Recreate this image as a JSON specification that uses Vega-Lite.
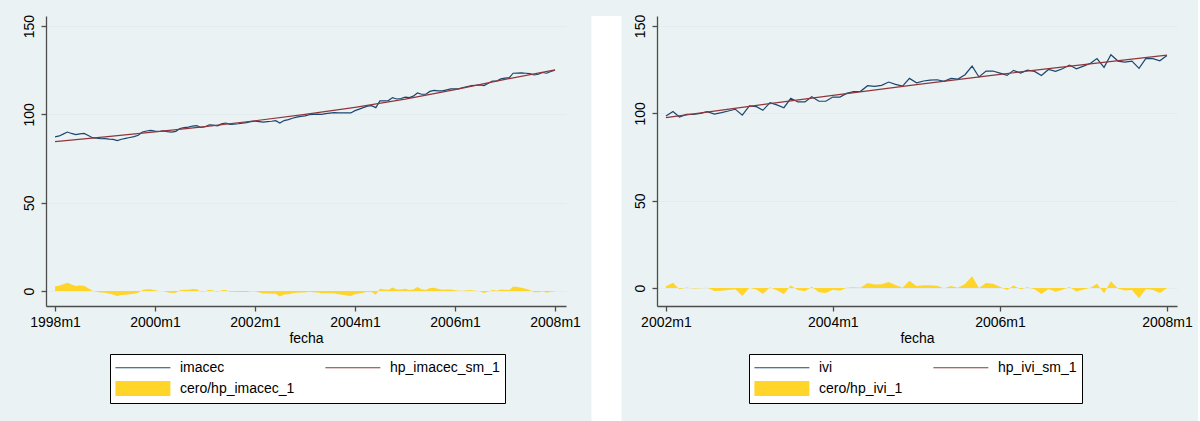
{
  "$schema": "https://vega.github.io/schema/vega-lite/v6.json",
  "background": "#eaf2f3",
  "padding": {"left": 21, "top": 14, "right": 5, "bottom": 0},
  "spacing": 10.5,
  "config": {
    "font": "Liberation Sans",
    "view": {"stroke": null, "fill": "white"},
    "axis": {"labelFont": "Liberation Sans", "labelFontSize": 14, "labelColor": "#000", "titleFont": "Liberation Sans", "titleFontSize": 14, "titleFontWeight": "normal", "titleColor": "#000", "domainColor": "#4d4d4d", "tickColor": "#4d4d4d", "domainWidth": 1.3, "tickWidth": 1.3, "tickSize": 5, "gridColor": "#e3edef", "gridWidth": 1.2},
    "legend": {"labelFont": "Liberation Sans", "labelFontSize": 14, "labelColor": "#000", "labelOffset": 48, "symbolSize": 225, "symbolStrokeWidth": 1.2, "symbolOpacity": 1, "symbolFillColor": "transparent", "columnPadding": 27, "rowPadding": 4, "padding": 5, "strokeColor": "#000", "fillColor": "#fff", "columns": 2, "direction": "horizontal", "orient": "none", "labelLimit": 300}
  },
  "datasets": {
    "imacec": [
      {"d":"1998-01","v":87.3,"c":2.7},{"d":"1998-02","v":87.8,"c":3.0},{"d":"1998-03","v":88.8,"c":3.8},{"d":"1998-04","v":90.0,"c":4.7},{"d":"1998-05","v":89.2,"c":3.7},{"d":"1998-06","v":88.5,"c":2.8},{"d":"1998-07","v":89.0,"c":3.1},{"d":"1998-08","v":89.2,"c":3.0},{"d":"1998-09","v":88.0,"c":1.6},{"d":"1998-10","v":86.8,"c":0.2},{"d":"1998-11","v":86.5,"c":-0.4},{"d":"1998-12","v":86.2,"c":-0.9},
      {"d":"1999-01","v":86.3,"c":-1.0},{"d":"1999-02","v":86.0,"c":-1.5},{"d":"1999-03","v":85.8,"c":-2.0},{"d":"1999-04","v":85.1,"c":-2.9},{"d":"1999-05","v":85.9,"c":-2.3},{"d":"1999-06","v":86.4,"c":-2.1},{"d":"1999-07","v":86.9,"c":-1.8},{"d":"1999-08","v":87.4,"c":-1.5},{"d":"1999-09","v":88.2,"c":-1.0},{"d":"1999-10","v":90.0,"c":0.6},{"d":"1999-11","v":90.6,"c":1.0},{"d":"1999-12","v":90.9,"c":1.0},
      {"d":"2000-01","v":90.5,"c":0.4},{"d":"2000-02","v":90.3,"c":0.0},{"d":"2000-03","v":90.6,"c":0.0},{"d":"2000-04","v":90.2,"c":-0.7},{"d":"2000-05","v":89.9,"c":-1.2},{"d":"2000-06","v":90.4,"c":-1.0},{"d":"2000-07","v":92.0,"c":0.4},{"d":"2000-08","v":92.5,"c":0.7},{"d":"2000-09","v":92.8,"c":0.7},{"d":"2000-10","v":93.4,"c":1.1},{"d":"2000-11","v":93.6,"c":1.0},{"d":"2000-12","v":92.6,"c":-0.3},
      {"d":"2001-01","v":93.0,"c":-0.1},{"d":"2001-02","v":94.1,"c":0.7},{"d":"2001-03","v":93.9,"c":0.3},{"d":"2001-04","v":93.5,"c":-0.4},{"d":"2001-05","v":94.6,"c":0.4},{"d":"2001-06","v":95.1,"c":0.6},{"d":"2001-07","v":94.3,"c":-0.5},{"d":"2001-08","v":94.5,"c":-0.5},{"d":"2001-09","v":94.7,"c":-0.6},{"d":"2001-10","v":95.0,"c":-0.6},{"d":"2001-11","v":95.3,"c":-0.6},{"d":"2001-12","v":95.9,"c":-0.2},
      {"d":"2002-01","v":96.2,"c":-0.2},{"d":"2002-02","v":95.9,"c":-0.8},{"d":"2002-03","v":95.6,"c":-1.4},{"d":"2002-04","v":95.9,"c":-1.4},{"d":"2002-05","v":96.1,"c":-1.5},{"d":"2002-06","v":96.4,"c":-1.5},{"d":"2002-07","v":95.1,"c":-3.1},{"d":"2002-08","v":96.5,"c":-2.0},{"d":"2002-09","v":97.0,"c":-1.8},{"d":"2002-10","v":97.8,"c":-1.3},{"d":"2002-11","v":98.4,"c":-1.0},{"d":"2002-12","v":98.9,"c":-0.8},
      {"d":"2003-01","v":99.2,"c":-0.8},{"d":"2003-02","v":99.9,"c":-0.4},{"d":"2003-03","v":100.0,"c":-0.7},{"d":"2003-04","v":100.1,"c":-0.9},{"d":"2003-05","v":100.0,"c":-1.3},{"d":"2003-06","v":100.4,"c":-1.3},{"d":"2003-07","v":100.7,"c":-1.3},{"d":"2003-08","v":101.0,"c":-1.3},{"d":"2003-09","v":100.9,"c":-1.8},{"d":"2003-10","v":100.8,"c":-2.2},{"d":"2003-11","v":100.8,"c":-2.5},{"d":"2003-12","v":100.8,"c":-2.9},
      {"d":"2004-01","v":102.1,"c":-1.9},{"d":"2004-02","v":103.0,"c":-1.4},{"d":"2004-03","v":103.8,"c":-1.0},{"d":"2004-04","v":104.7,"c":-0.5},{"d":"2004-05","v":104.9,"c":-0.6},{"d":"2004-06","v":103.8,"c":-2.1},{"d":"2004-07","v":107.6,"c":1.3},{"d":"2004-08","v":107.6,"c":0.9},{"d":"2004-09","v":107.8,"c":0.7},{"d":"2004-10","v":109.5,"c":2.0},{"d":"2004-11","v":108.7,"c":0.9},{"d":"2004-12","v":109.0,"c":0.8},
      {"d":"2005-01","v":109.8,"c":1.2},{"d":"2005-02","v":109.5,"c":0.5},{"d":"2005-03","v":110.3,"c":0.8},{"d":"2005-04","v":112.1,"c":2.2},{"d":"2005-05","v":111.4,"c":1.0},{"d":"2005-06","v":111.4,"c":0.6},{"d":"2005-07","v":113.0,"c":1.7},{"d":"2005-08","v":113.6,"c":1.9},{"d":"2005-09","v":113.3,"c":1.1},{"d":"2005-10","v":113.3,"c":0.7},{"d":"2005-11","v":113.9,"c":0.8},{"d":"2005-12","v":114.4,"c":0.9},
      {"d":"2006-01","v":114.4,"c":0.4},{"d":"2006-02","v":114.6,"c":0.1},{"d":"2006-03","v":115.2,"c":0.2},{"d":"2006-04","v":115.8,"c":0.4},{"d":"2006-05","v":116.3,"c":0.4},{"d":"2006-06","v":116.5,"c":0.1},{"d":"2006-07","v":116.7,"c":-0.2},{"d":"2006-08","v":116.3,"c":-1.1},{"d":"2006-09","v":117.6,"c":-0.3},{"d":"2006-10","v":118.9,"c":0.6},{"d":"2006-11","v":118.9,"c":0.1},{"d":"2006-12","v":120.1,"c":0.8},
      {"d":"2007-01","v":120.5,"c":0.7},{"d":"2007-02","v":120.8,"c":0.6},{"d":"2007-03","v":123.3,"c":2.6},{"d":"2007-04","v":123.4,"c":2.3},{"d":"2007-05","v":123.5,"c":1.9},{"d":"2007-06","v":123.3,"c":1.3},{"d":"2007-07","v":123.1,"c":0.6},{"d":"2007-08","v":122.3,"c":-0.7},{"d":"2007-09","v":122.7,"c":-0.7},{"d":"2007-10","v":123.7,"c":-0.2},{"d":"2007-11","v":123.3,"c":-1.0},{"d":"2007-12","v":124.3,"c":-0.5},
      {"d":"2008-01","v":125.0,"c":-0.2}
    ],
    "imacec_trend": [
      {"d":"1998-01","v":84.6},{"d":"1999-01","v":87.3},{"d":"2000-01","v":90.1},{"d":"2001-01","v":93.1},{"d":"2002-01","v":96.4},{"d":"2003-01","v":100.0},{"d":"2004-01","v":104.0},{"d":"2005-01","v":108.6},{"d":"2006-01","v":114.0},{"d":"2007-01","v":119.8},{"d":"2008-01","v":125.2}
    ],
    "imacec_series": [{"s": "imacec"}, {"s": "hp_imacec_sm_1"}, {"s": "cero/hp_imacec_1"}],
    "ivi": [
      {"d":"2002-01","v":98.5,"c":1.0},{"d":"2002-02","v":101.0,"c":3.0},{"d":"2002-03","v":97.9,"c":-0.7},{"d":"2002-04","v":99.4,"c":0.3},{"d":"2002-05","v":99.4,"c":-0.3},{"d":"2002-06","v":100.0,"c":-0.2},{"d":"2002-07","v":101.0,"c":0.2},{"d":"2002-08","v":99.6,"c":-1.7},{"d":"2002-09","v":100.4,"c":-1.5},{"d":"2002-10","v":101.3,"c":-1.1},{"d":"2002-11","v":102.3,"c":-0.7},{"d":"2002-12","v":98.9,"c":-4.6},
      {"d":"2003-01","v":104.2,"c":0.2},{"d":"2003-02","v":103.8,"c":-0.8},{"d":"2003-03","v":101.7,"c":-3.4},{"d":"2003-04","v":106.1,"c":0.5},{"d":"2003-05","v":104.8,"c":-1.3},{"d":"2003-06","v":103.2,"c":-3.5},{"d":"2003-07","v":108.6,"c":1.4},{"d":"2003-08","v":106.5,"c":-1.2},{"d":"2003-09","v":106.5,"c":-1.8},{"d":"2003-10","v":109.5,"c":0.7},{"d":"2003-11","v":106.9,"c":-2.4},{"d":"2003-12","v":106.9,"c":-2.9},
      {"d":"2004-01","v":109.3,"c":-1.0},{"d":"2004-02","v":109.3,"c":-1.5},{"d":"2004-03","v":111.4,"c":0.1},{"d":"2004-04","v":112.4,"c":0.5},{"d":"2004-05","v":112.6,"c":0.2},{"d":"2004-06","v":115.8,"c":2.9},{"d":"2004-07","v":115.4,"c":2.0},{"d":"2004-08","v":116.0,"c":2.1},{"d":"2004-09","v":117.9,"c":3.5},{"d":"2004-10","v":116.6,"c":1.7},{"d":"2004-11","v":115.6,"c":0.2},{"d":"2004-12","v":120.0,"c":4.1},
      {"d":"2005-01","v":117.5,"c":1.1},{"d":"2005-02","v":118.5,"c":1.6},{"d":"2005-03","v":119.0,"c":1.6},{"d":"2005-04","v":119.2,"c":1.3},{"d":"2005-05","v":118.3,"c":-0.1},{"d":"2005-06","v":120.0,"c":1.1},{"d":"2005-07","v":119.6,"c":0.2},{"d":"2005-08","v":122.1,"c":2.3},{"d":"2005-09","v":127.0,"c":6.7},{"d":"2005-10","v":120.8,"c":0.0},{"d":"2005-11","v":124.2,"c":2.9},{"d":"2005-12","v":124.2,"c":2.4},
      {"d":"2006-01","v":123.0,"c":0.7},{"d":"2006-02","v":121.7,"c":-1.1},{"d":"2006-03","v":124.6,"c":1.4},{"d":"2006-04","v":123.0,"c":-0.7},{"d":"2006-05","v":124.7,"c":0.5},{"d":"2006-06","v":124.0,"c":-0.7},{"d":"2006-07","v":121.7,"c":-3.4},{"d":"2006-08","v":125.1,"c":-0.5},{"d":"2006-09","v":124.0,"c":-2.1},{"d":"2006-10","v":125.5,"c":-1.0},{"d":"2006-11","v":127.6,"c":0.6},{"d":"2006-12","v":125.5,"c":-2.0},
      {"d":"2007-01","v":127.0,"c":-0.9},{"d":"2007-02","v":128.6,"c":0.2},{"d":"2007-03","v":131.3,"c":2.5},{"d":"2007-04","v":126.3,"c":-3.0},{"d":"2007-05","v":133.5,"c":3.8},{"d":"2007-06","v":129.9,"c":-0.3},{"d":"2007-07","v":129.3,"c":-1.4},{"d":"2007-08","v":129.9,"c":-1.2},{"d":"2007-09","v":125.7,"c":-5.9},{"d":"2007-10","v":131.4,"c":-0.6},{"d":"2007-11","v":131.3,"c":-1.2},{"d":"2007-12","v":130.1,"c":-2.8},
      {"d":"2008-01","v":133.1,"c":-0.2}
    ],
    "ivi_trend": [
      {"d":"2002-01","v":97.5},{"d":"2003-01","v":104.0},{"d":"2004-01","v":110.3},{"d":"2005-01","v":116.4},{"d":"2006-01","v":122.3},{"d":"2007-01","v":127.9},{"d":"2008-01","v":133.3}
    ],
    "ivi_series": [{"s": "ivi"}, {"s": "hp_ivi_sm_1"}, {"s": "cero/hp_ivi_1"}]
  },
  "resolve": {"scale": {"color": "independent", "shape": "independent"}},
  "hconcat": [
    {
      "width": 520, "height": 290,
      "layer": [
        {
          "data": {"name": "imacec"},
          "mark": {"type": "area", "color": "#ffd52a", "opacity": 1},
          "encoding": {
            "x": {"field": "d", "type": "temporal", "title": "fecha", "scale": {"type": "utc", "domain": [{"year": 1997, "month": 10, "date": 27, "utc": true}, {"year": 2008, "month": 3, "date": 21, "utc": true}]}, "axis": {"values": [{"year": 1998, "utc": true}, {"year": 2000, "utc": true}, {"year": 2002, "utc": true}, {"year": 2004, "utc": true}, {"year": 2006, "utc": true}, {"year": 2008, "utc": true}], "labelExpr": "utcFormat(datum.value, '%Y') + 'm1'", "grid": false, "labelPadding": 4, "titlePadding": 2, "labelFlush": false, "labelOverlap": false}},
            "y": {"field": "c", "type": "quantitative", "title": null, "scale": {"domain": [-8.5, 155.7], "nice": false, "zero": false}, "axis": {"values": [0, 50, 100, 150], "labelAngle": 270, "labelAlign": "center", "labelBaseline": "bottom", "labelPadding": 5, "grid": true}},
            "y2": {"datum": 0}
          }
        },
        {
          "data": {"name": "imacec"},
          "mark": {"type": "line", "color": "#1a476f", "strokeWidth": 1.2},
          "encoding": {
            "x": {"field": "d", "type": "temporal"},
            "y": {"field": "v", "type": "quantitative"}
          }
        },
        {
          "data": {"name": "imacec_trend"},
          "mark": {"type": "line", "color": "#90353b", "strokeWidth": 1.2},
          "encoding": {
            "x": {"field": "d", "type": "temporal"},
            "y": {"field": "v", "type": "quantitative"}
          }
        },
        {
          "data": {"name": "imacec_series"},
          "mark": {"type": "point", "opacity": 0, "filled": false},
          "encoding": {
            "color": {"field": "s", "type": "nominal", "scale": {"domain": ["imacec", "hp_imacec_sm_1", "cero/hp_imacec_1"], "range": ["#1a476f", "#90353b", "#ffd52a"]}, "legend": {"title": null, "legendX": 64, "legendY": 338}},
            "shape": {"field": "s", "type": "nominal", "scale": {"domain": ["imacec", "hp_imacec_sm_1", "cero/hp_imacec_1"], "range": ["M-1.08,0H6.25", "M-1.08,0H6.25", "M-1.08,-0.93H6.25M-1.08,-0.775H6.25M-1.08,-0.62H6.25M-1.08,-0.465H6.25M-1.08,-0.31H6.25M-1.08,-0.155H6.25M-1.08,0H6.25M-1.08,0.155H6.25M-1.08,0.31H6.25M-1.08,0.465H6.25M-1.08,0.62H6.25M-1.08,0.775H6.25M-1.08,0.93H6.25"]}, "legend": {"title": null, "legendX": 64, "legendY": 338}}
          }
        }
      ]
    },
    {
      "width": 30, "height": 407,
      "data": {"values": []},
      "mark": {"type": "point", "opacity": 0},
      "view": {"fill": "white", "stroke": null}
    },
    {
      "width": 520, "height": 290,
      "layer": [
        {
          "data": {"name": "ivi"},
          "mark": {"type": "area", "color": "#ffd52a", "opacity": 1},
          "encoding": {
            "x": {"field": "d", "type": "temporal", "title": "fecha", "scale": {"type": "utc", "domain": [{"year": 2001, "month": 11, "date": 23, "utc": true}, {"year": 2008, "month": 2, "date": 14, "utc": true}]}, "axis": {"values": [{"year": 2002, "utc": true}, {"year": 2004, "utc": true}, {"year": 2006, "utc": true}, {"year": 2008, "utc": true}], "labelExpr": "utcFormat(datum.value, '%Y') + 'm1'", "grid": false, "labelPadding": 4, "titlePadding": 2, "labelFlush": false, "labelOverlap": false}},
            "y": {"field": "c", "type": "quantitative", "title": null, "scale": {"domain": [-10.3, 155.7], "nice": false, "zero": false}, "axis": {"values": [0, 50, 100, 150], "labelAngle": 270, "labelAlign": "center", "labelBaseline": "bottom", "labelPadding": 5, "grid": true}},
            "y2": {"datum": 0}
          }
        },
        {
          "data": {"name": "ivi"},
          "mark": {"type": "line", "color": "#1a476f", "strokeWidth": 1.2},
          "encoding": {
            "x": {"field": "d", "type": "temporal"},
            "y": {"field": "v", "type": "quantitative"}
          }
        },
        {
          "data": {"name": "ivi_trend"},
          "mark": {"type": "line", "color": "#90353b", "strokeWidth": 1.2},
          "encoding": {
            "x": {"field": "d", "type": "temporal"},
            "y": {"field": "v", "type": "quantitative"}
          }
        },
        {
          "data": {"name": "ivi_series"},
          "mark": {"type": "point", "opacity": 0, "filled": false},
          "encoding": {
            "color": {"field": "s", "type": "nominal", "scale": {"domain": ["ivi", "hp_ivi_sm_1", "cero/hp_ivi_1"], "range": ["#1a476f", "#90353b", "#ffd52a"]}, "legend": {"title": null, "legendX": 92, "legendY": 338}},
            "shape": {"field": "s", "type": "nominal", "scale": {"domain": ["ivi", "hp_ivi_sm_1", "cero/hp_ivi_1"], "range": ["M-1.08,0H6.25", "M-1.08,0H6.25", "M-1.08,-0.93H6.25M-1.08,-0.775H6.25M-1.08,-0.62H6.25M-1.08,-0.465H6.25M-1.08,-0.31H6.25M-1.08,-0.155H6.25M-1.08,0H6.25M-1.08,0.155H6.25M-1.08,0.31H6.25M-1.08,0.465H6.25M-1.08,0.62H6.25M-1.08,0.775H6.25M-1.08,0.93H6.25"]}, "legend": {"title": null, "legendX": 92, "legendY": 338}}
          }
        }
      ]
    }
  ]
}
